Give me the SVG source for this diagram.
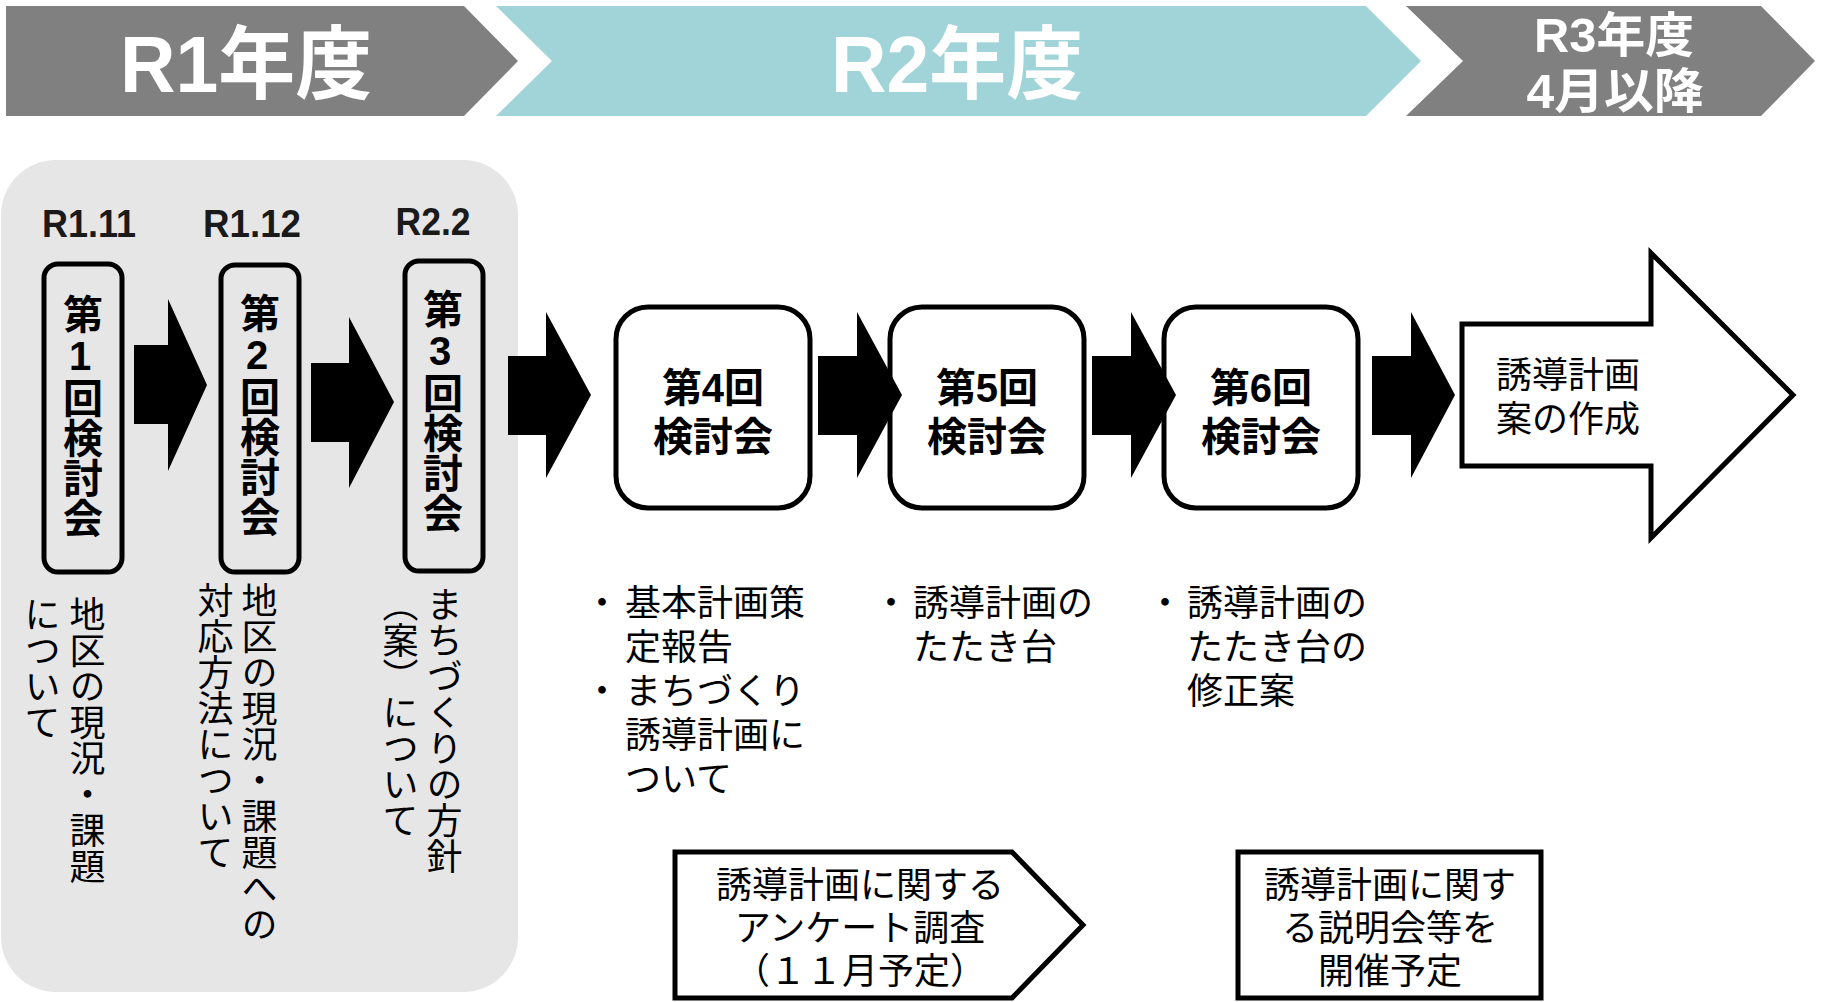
<svg xmlns="http://www.w3.org/2000/svg" width="1825" height="1002" viewBox="0 0 1825 1002">
<defs>
<style>
.jp{font-family:"Liberation Sans","Noto Sans CJK JP",sans-serif;}
.hd{font-weight:bold;fill:#ffffff;text-anchor:middle;dominant-baseline:central;}
.bx{font-weight:bold;fill:#000;text-anchor:middle;dominant-baseline:central;font-size:40px;}
.vb{font-weight:bold;fill:#000;font-size:40px;writing-mode:vertical-rl;text-orientation:upright;}
.dt{font-weight:bold;fill:#1a1a1a;text-anchor:middle;dominant-baseline:central;font-size:38px;}
.bd{fill:#000;font-size:36px;dominant-baseline:central;}
.vt{fill:#000;font-size:36px;writing-mode:vertical-rl;}
.ctr{text-anchor:middle;}
.rb{fill:none;stroke:#000;stroke-width:5;}
.wb{fill:#fff;stroke:#000;stroke-width:5;}
.blk{fill:#000;stroke:none;}
</style>
</defs>

<g id="header">
  <polygon points="6,6 464,6 518,61 464,116 6,116" fill="#808080"/>
  <polygon points="496,6 1366,6 1421,61 1366,116 496,116 552,61" fill="#a0d4d8"/>
  <polygon points="1406,6 1761,6 1815,61 1761,116 1406,116 1463,61" fill="#808080"/>
  <text class="jp hd" x="246" y="64" font-size="80" textLength="252" lengthAdjust="spacingAndGlyphs">R1年度</text>
  <text class="jp hd" x="957" y="64" font-size="80" textLength="252" lengthAdjust="spacingAndGlyphs">R2年度</text>
  <text class="jp hd" x="1614" y="35" font-size="48" textLength="160" lengthAdjust="spacingAndGlyphs">R3年度</text>
  <text class="jp hd" x="1615" y="91" font-size="48" textLength="177" lengthAdjust="spacingAndGlyphs">4月以降</text>
</g>

<g id="panel">
  <rect x="1" y="160" width="517" height="832" rx="55" fill="#e6e6e6"/>
  <text class="jp dt" x="89" y="224" textLength="94" lengthAdjust="spacingAndGlyphs">R1.11</text>
  <text class="jp dt" x="252" y="224" textLength="98" lengthAdjust="spacingAndGlyphs">R1.12</text>
  <text class="jp dt" x="433" y="222" textLength="75" lengthAdjust="spacingAndGlyphs">R2.2</text>
</g>

<g id="node1">
  <rect class="rb" x="44" y="264" width="78" height="308" rx="14"/>
  <text class="jp vb" x="80" y="294">第1回検討会</text>
  <text class="jp vt" x="84" y="596">地区の現況・課題</text>
  <text class="jp vt" x="39" y="596">について</text>
</g>

<g id="node2">
  <rect class="rb" x="221" y="265" width="78" height="307" rx="14"/>
  <text class="jp vb" x="257" y="293">第2回検討会</text>
  <text class="jp vt" x="256" y="582">地区の現況・課題への</text>
  <text class="jp vt" x="212" y="582">対応方法について</text>
</g>

<g id="node3">
  <rect class="rb" x="405" y="261" width="78" height="310" rx="14"/>
  <text class="jp vb" x="440" y="289">第3回検討会</text>
  <text class="jp vt" x="441" y="586">まちづくりの方針</text>
  <text class="jp vt" x="397" y="586">（案）について</text>
</g>

<g id="node4">
  <rect class="wb" x="616" y="307" width="194" height="201" rx="32"/>
  <text class="jp bx" x="713" y="388">第4回</text>
  <text class="jp bx" x="713" y="437">検討会</text>
  <text class="jp bd" x="602" y="603" text-anchor="middle">・</text>
  <text class="jp bd" x="625" y="603">基本計画策</text>
  <text class="jp bd" x="625" y="647">定報告</text>
  <text class="jp bd" x="602" y="691" text-anchor="middle">・</text>
  <text class="jp bd" x="625" y="691">まちづくり</text>
  <text class="jp bd" x="625" y="735">誘導計画に</text>
  <text class="jp bd" x="625" y="779">ついて</text>
</g>

<g id="node5">
  <rect class="wb" x="890" y="307" width="194" height="201" rx="32"/>
  <text class="jp bx" x="987" y="388">第5回</text>
  <text class="jp bx" x="987" y="437">検討会</text>
  <text class="jp bd" x="891" y="603" text-anchor="middle">・</text>
  <text class="jp bd" x="913" y="603">誘導計画の</text>
  <text class="jp bd" x="913" y="647">たたき台</text>
</g>

<g id="node6">
  <rect class="wb" x="1164" y="307" width="194" height="201" rx="32"/>
  <text class="jp bx" x="1261" y="388">第6回</text>
  <text class="jp bx" x="1261" y="437">検討会</text>
  <text class="jp bd" x="1165" y="603" text-anchor="middle">・</text>
  <text class="jp bd" x="1187" y="603">誘導計画の</text>
  <text class="jp bd" x="1187" y="647">たたき台の</text>
  <text class="jp bd" x="1187" y="691">修正案</text>
</g>

<g id="node7">
  <polygon class="wb" points="1462,324 1651,324 1651,253 1793,395 1651,538 1651,466 1462,466"/>
  <text class="jp bd" x="1496" y="375">誘導計画</text>
  <text class="jp bd" x="1496" y="419">案の作成</text>
</g>

<g id="node8">
  <polygon class="wb" points="675,852 1012,852 1083,925 1012,998 675,998"/>
  <text class="jp bd ctr" x="860" y="885">誘導計画に関する</text>
  <text class="jp bd ctr" x="860" y="928">アンケート調査</text>
  <text class="jp bd ctr" x="860" y="971">（１１月予定）</text>
</g>

<g id="node9">
  <rect class="wb" x="1238" y="852" width="303" height="146"/>
  <text class="jp bd ctr" x="1390" y="885">誘導計画に関す</text>
  <text class="jp bd ctr" x="1390" y="928">る説明会等を</text>
  <text class="jp bd ctr" x="1390" y="971">開催予定</text>
</g>

<g id="connectors">
  <polygon class="blk" points="134,345 168,345 168,299 207,385 168,471 168,424 134,424"/>
  <polygon class="blk" points="311,363 349,363 349,317 394,402 349,488 349,442 311,442"/>
  <polygon class="blk" points="508,356 546,356 546,312 591,395 546,478 546,435 508,435"/>
  <polygon class="blk" points="818,356 857,356 857,312 902,395 857,478 857,435 818,435"/>
  <polygon class="blk" points="1092,356 1131,356 1131,312 1176,395 1131,478 1131,435 1092,435"/>
  <polygon class="blk" points="1372,356 1411,356 1411,312 1455,395 1411,478 1411,435 1372,435"/>
</g>
</svg>
